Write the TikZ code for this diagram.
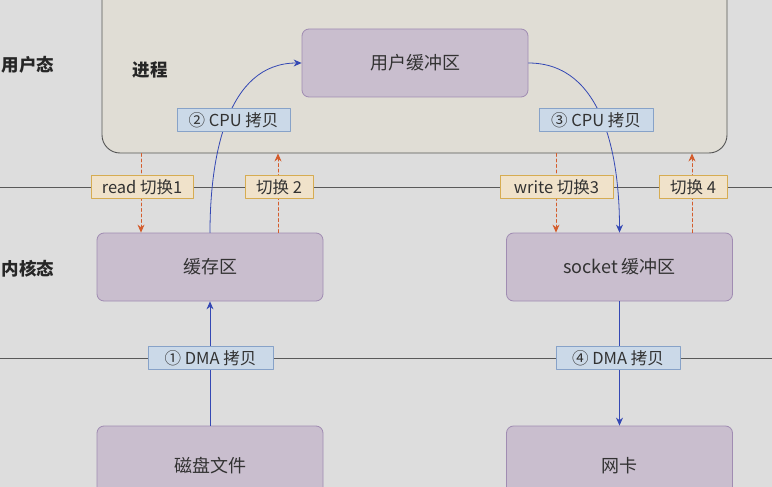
\documentclass[tikz,border=0pt]{standalone}
\usepackage{fontspec}
\setmainfont{Noto Sans CJK SC}
\usepackage{xcolor}
\usetikzlibrary{arrows.meta, calc, positioning}

\definecolor{bgcol}{RGB}{221,221,221}
\definecolor{proccol}{RGB}{224,221,213}
\definecolor{procline}{RGB}{85,85,85}
\definecolor{buffill}{RGB}{201,190,206}
\definecolor{bufline}{RGB}{160,140,178}
\definecolor{cpufill}{RGB}{203,217,232}
\definecolor{cpuline}{RGB}{135,162,200}
\definecolor{swfill}{RGB}{240,226,202}
\definecolor{swline}{RGB}{214,172,82}
\definecolor{copyblue}{RGB}{52,72,180}
\definecolor{switchred}{RGB}{212,92,44}
\definecolor{txtcol}{RGB}{50,50,50}

\begin{document}
\begin{tikzpicture}[x=1pt, y=-1pt, line cap=round, line join=round,
		bufbox/.style={draw=bufline, fill=buffill, rounded corners=7pt, line width=0.8pt,
			minimum width=226pt, minimum height=68pt, font=\fontsize{18}{18}\selectfont, text=txtcol},
		cpubox/.style={draw=cpuline, fill=cpufill, line width=0.8pt, minimum height=23pt,
			inner sep=2pt, font=\fontsize{16.5}{16.5}\selectfont, text=txtcol},
		swbox/.style={draw=swline, fill=swfill, line width=0.8pt, minimum height=23pt,
			inner sep=2pt, font=\fontsize{16.5}{16.5}\selectfont, text=txtcol},
		sidelabel/.style={font=\fontsize{17.5}{17.5}\selectfont\bfseries, text=black!85},
		sepline/.style={draw=black!65, line width=0.9pt},
		copyarrow/.style={draw=copyblue, line width=0.8pt, -{Stealth[length=8pt,width=7pt]}},
		switcharrow/.style={draw=switchred, line width=0.8pt, dash pattern=on 3pt off 2.5pt,
			-{Stealth[length=8pt,width=7pt]}}]
				\useasboundingbox (0,0) rectangle (772,487);
				\fill[bgcol] (0,0) rectangle (772,487);
				\begin{scope}
				\clip (0,0) rectangle (772,487);
				% process area
				\node[draw=procline, fill=proccol, rounded corners=18pt, line width=0.9pt,
					minimum width=625pt, minimum height=193pt] (proc) at (414.5,56.5) {};
				\node[sidelabel] (user) at (28,65) {用户态};
				\node[sidelabel] (kernel) at (28,269) {内核态};
				\node[sidelabel] (procname) at (150,70) {进程};
				% buffers
				\node[bufbox] (ubuf) at (415,63) {用户缓冲区};
				\node[bufbox] (cache) at (210,267) {缓存区};
				\node[bufbox] (sock) at (619.5,267) {socket 缓冲区};
				\node[bufbox, minimum height=80pt] (disk) at (210,466) {磁盘文件};
				\node[bufbox, minimum height=80pt] (nic) at (619.5,466) {网卡};
				% separator lines
				\coordinate (ul) at (0,187);
				\coordinate (ur) at (772,187);
				\coordinate (kl) at (0,358);
				\coordinate (kr) at (772,358);
				\draw[sepline] (ul) -- (ur);
				\draw[sepline] (kl) -- (kr);
				% copies
				\draw[copyarrow] (disk.north) -- (cache.south);
				\draw[copyarrow] (cache.north) to[out=90, in=180] (ubuf.west);
				\draw[copyarrow] (ubuf.east) to[out=0, in=90] (sock.north);
				\draw[copyarrow] (sock.south) -- (nic.north);
				% context switches
				\coordinate (s1) at (141,0);
				\coordinate (s2) at (278,0);
				\coordinate (s3) at (556,0);
				\coordinate (s4) at (692,0);
				\draw[switcharrow] (proc.south -| s1) -- (cache.north -| s1);
				\draw[switcharrow] (cache.north -| s2) -- (proc.south -| s2);
				\draw[switcharrow] (proc.south -| s3) -- (sock.north -| s3);
				\draw[switcharrow] (sock.north -| s4) -- (proc.south -| s4);
				% labels
				\node[swbox, minimum width=102pt] (sw1) at (142,187) {read 切换1};
				\node[swbox, minimum width=68pt] (sw2) at (279,187) {切换 2};
				\node[swbox, minimum width=113pt] (sw3) at (556.5,187) {write 切换3};
				\node[swbox, minimum width=68pt] (sw4) at (693,187) {切换 4};
				\node[cpubox, minimum width=113pt] (cpu1) at (233.5,120) {② CPU 拷贝};
				\node[cpubox, minimum width=114pt] (cpu2) at (596,120) {③ CPU 拷贝};
				\node[cpubox, minimum width=125pt] (dma1) at (210.5,358) {① DMA 拷贝};
				\node[cpubox, minimum width=124pt] (dma2) at (618,358) {④ DMA 拷贝};
				\end{scope}
			\end{tikzpicture}
\end{document}
